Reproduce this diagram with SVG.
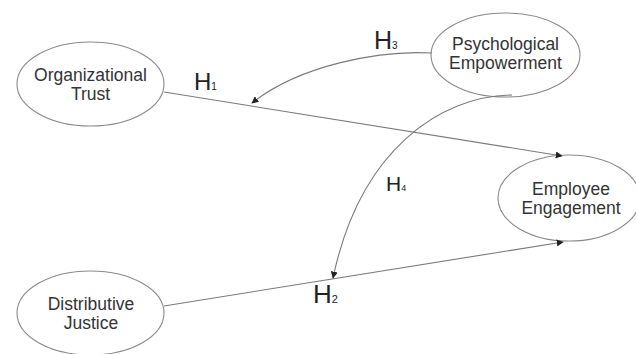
<svg xmlns="http://www.w3.org/2000/svg" width="636" height="354" viewBox="0 0 636 354">
<style>
.node ellipse{fill:#fff;stroke:#8a8a8a;stroke-width:1.1}
.lbl{font-family:"Liberation Sans",Arial,sans-serif;font-size:17.5px;fill:#333;text-anchor:middle}
.h{font-family:"Liberation Sans",Arial,sans-serif;fill:#222}
.conn path{fill:none;stroke:#7a7a7a;stroke-width:1.1}
</style>
<defs>
<marker id="arr" viewBox="0 0 10 10" refX="9" refY="5" markerWidth="7" markerHeight="7" markerUnits="userSpaceOnUse" orient="auto">
<path d="M0,0 L10,5 L0,10 z" fill="#222"/>
</marker>
</defs>
<rect width="636" height="354" fill="#fff"/>
<g id="organizational-trust" class="node">
<ellipse cx="90.5" cy="84" rx="73.5" ry="42"/>
<text class="lbl" x="90.5" y="80.5">Organizational</text>
<text class="lbl" x="90.5" y="100">Trust</text>
</g>
<g id="psychological-empowerment" class="node">
<ellipse cx="505.5" cy="55" rx="74.5" ry="42"/>
<text class="lbl" x="505.5" y="49.5">Psychological</text>
<text class="lbl" x="505.5" y="69">Empowerment</text>
</g>
<g id="employee-engagement" class="node">
<ellipse cx="569" cy="198" rx="71" ry="43"/>
<text class="lbl" x="571" y="194.5">Employee</text>
<text class="lbl" x="571" y="214">Engagement</text>
</g>
<g id="distributive-justice" class="node">
<ellipse cx="90.5" cy="313" rx="73.5" ry="42"/>
<text class="lbl" x="91" y="309.5">Distributive</text>
<text class="lbl" x="91" y="329">Justice</text>
</g>
<g id="connectors" class="conn">
<path d="M164,92 L562,156" marker-end="url(#arr)"/>
<path d="M164,306 L563,242" marker-end="url(#arr)"/>
<path d="M432,53 C380,50 300,65 252,103" marker-end="url(#arr)"/>
<path d="M512,95 C440,96 360,150 333,278" marker-end="url(#arr)"/>
</g>
<g id="labels">
<text class="h" x="194" y="90" font-size="24">H<tspan font-size="10">1</tspan></text>
<text class="h" x="374" y="49" font-size="25">H<tspan font-size="10">3</tspan></text>
<text class="h" x="386" y="191" font-size="21">H<tspan font-size="9">4</tspan></text>
<text class="h" x="313" y="303" font-size="26">H<tspan font-size="11">2</tspan></text>
</g>
</svg>
